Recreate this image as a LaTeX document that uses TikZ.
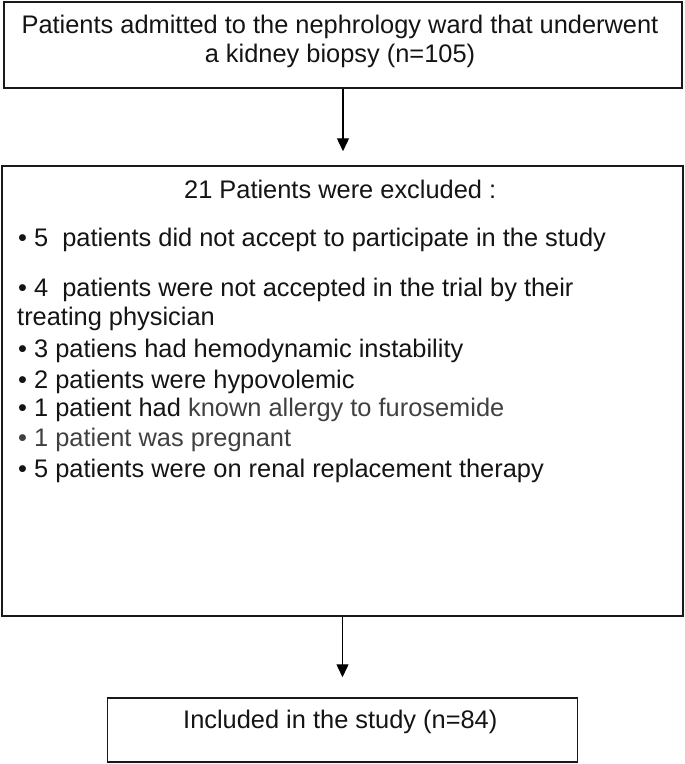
\documentclass[tikz,border=0pt]{standalone}
\usepackage{fontspec}
\setmainfont{Liberation Sans}
\usetikzlibrary{arrows.meta}

\begin{document}
\begin{tikzpicture}[x=1pt,y=-1pt,
        box/.style={draw=black!90,line width=1.5pt,inner sep=0pt},
        flow/.style={line width=1.4pt,-{Triangle[width=12pt,length=13pt]}},
        txt/.style={font=\fontsize{25.4}{29}\selectfont,inner sep=0pt,text=black!92}]
    \useasboundingbox (0,0) rectangle (685,764);

    % boxes
    \node[box,minimum width=678pt,minimum height=86pt] (admitted) at (343,45) {};
    \node[box,minimum width=681pt,minimum height=450pt] (excluded) at (342.5,391) {};
    \node[box,minimum width=470pt,minimum height=64pt] (included) at (342.5,730) {};

    % texts
    \node[txt,anchor=base] (adm1) at (340,33) {Patients admitted to the nephrology ward that underwent};
    \node[txt,anchor=base] (adm2) at (340,62) {a kidney biopsy (n=105)};

    \node[txt,anchor=base west] (exhead) at (184,198) {21 Patients were excluded :};
    \node[txt,anchor=base west] (ex1) at (18,246.7) {• 5\ \ patients did not accept to participate in the study};
    \node[txt,anchor=base west] (ex2) at (18,296.7) {• 4\ \ patients were not accepted in the trial by their};
    \node[txt,anchor=base west] (ex2b) at (17,325) {treating physician};
    \node[txt,anchor=base west] (ex3) at (18,357) {• 3 patiens had hemodynamic instability};
    \node[txt,anchor=base west] (ex4) at (18,388) {• 2 patients were hypovolemic};
    \node[txt,anchor=base west] (ex5) at (18,416.7) {• 1 patient had \textcolor{black!75}{known allergy to furosemide}};
    \node[txt,anchor=base west,text=black!75] (ex6) at (18,446.7) {• 1 patient was pregnant};
    \node[txt,anchor=base west] (ex7) at (18,477) {• 5 patients were on renal replacement therapy};

    \node[txt,anchor=base west] (inc) at (183,728) {Included in the study (n=84)};

    % arrows
    \draw[flow,shorten >=14pt] (admitted.south) -- (admitted.south |- excluded.north);
    \draw[flow,shorten >=20pt] (excluded.south) -- (included.north);
\end{tikzpicture}
\end{document}
